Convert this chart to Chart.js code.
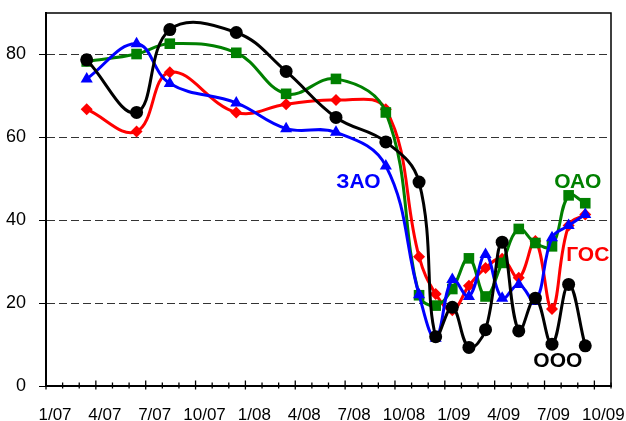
<!DOCTYPE html>
<html>
<head>
<meta charset="utf-8">
<script src="https://cdn.jsdelivr.net/npm/chart.js@4/dist/chart.umd.min.js"></script>
<style>
  html, body { margin: 0; padding: 0; background: #fff; }
  #wrap { width: 626px; height: 421px; position: relative; }
</style>
</head>
<body>
<div id="wrap"><canvas id="chart"></canvas></div>
<script>
// даты наблюдений (месяц, год)
const dates = ['2007-03','2007-06','2007-08','2007-12','2008-03','2008-06','2008-09','2008-11','2008-12',
               '2009-01','2009-02','2009-03','2009-04','2009-05','2009-06','2009-07','2009-08','2009-09'];

const ooo = [78.7, 66.0, 86.0, 85.3, 75.9, 64.8, 58.9, 49.2, 11.9, 19.0, 9.3, 13.6, 34.7, 13.3, 21.2, 10.1, 24.5, 9.7];
const zao = [74.1, 82.6, 73.0, 68.3, 62.1, 61.2, 53.1, 22.0, 11.5, 25.7, 21.6, 31.7, 21.2, 24.5, 20.4, 35.8, 38.7, 41.4];
const oao = [78.3, 80.1, 82.6, 80.4, 70.5, 74.1, 66.0, 21.9, 19.4, 23.4, 30.8, 21.6, 29.7, 37.9, 34.5, 33.7, 46.0, 44.1];
const gos = [66.8, 61.4, 75.7, 66.0, 68.0, 69.0, 66.8, 31.2, 22.2, 18.3, 24.2, 28.5, 30.7, 26.1, 35.0, 18.6, 38.7, 41.4];

const xTickLabels = ['1/07','4/07','7/07','10/07','1/08','4/08','7/08','10/08','1/09','4/09','7/09','10/09'];
const yTicks = [0, 20, 40, 60, 80];

// подписи рядов (в единицах осей: месяцы от 1/07, значение)
const seriesLabels = [
  { text: 'ЗАО', month: 18.8, value: 49.2, color: '#0000ff' },
  { text: 'ОАО', month: 32.0, value: 49.2, color: '#008000' },
  { text: 'ГОС', month: 32.6, value: 31.5, color: '#ff0000' },
  { text: 'ООО', month: 30.8, value: 5.9, color: '#000000' }
];

// месяц от начала 2007 (середина месяца)
function monthPos(d){
  const [y, m] = d.split('-').map(Number);
  return (y - 2007) * 12 + (m - 1) + 0.45;
}
function toPoints(arr){
  return arr.map((v, i) => ({ x: monthPos(dates[i]), y: v }));
}

Chart.defaults.font.family = '"Liberation Sans", Arial, sans-serif';
Chart.defaults.color = '#000';

const framePlugin = {
  id: 'frame',
  afterDraw(chart){
    const ctx = chart.ctx;
    const a = chart.chartArea;
    const xs = chart.scales.x, ys = chart.scales.y;
    ctx.save();
    // рамка сверху и справа
    ctx.strokeStyle = '#000';
    ctx.lineWidth = 1.5;
    ctx.beginPath();
    ctx.moveTo(a.left, a.top);
    ctx.lineTo(a.right, a.top);
    ctx.lineTo(a.right, a.bottom);
    ctx.stroke();
    // засечки оси X
    ctx.lineWidth = 1.3;
    xs.ticks.forEach(t => {
      const px = xs.getPixelForValue(t.value);
      const major = t.value % 3 === 0;
      ctx.beginPath();
      ctx.moveTo(px, a.bottom - (major ? 5.5 : 3.5));
      ctx.lineTo(px, a.bottom + (major ? 3.5 : 2.5));
      ctx.stroke();
    });
    // подписи рядов
    ctx.font = 'bold 21px "Liberation Sans", Arial, sans-serif';
    ctx.textAlign = 'center';
    ctx.textBaseline = 'middle';
    seriesLabels.forEach(l => {
      ctx.fillStyle = l.color;
      ctx.fillText(l.text, xs.getPixelForValue(l.month), ys.getPixelForValue(l.value));
    });
    ctx.restore();
  }
};

function ds(label, data, color, style, radius){
  return {
    label: label,
    data: toPoints(data),
    borderColor: color,
    backgroundColor: color,
    borderWidth: 3,
    pointStyle: style,
    pointRadius: radius,
    pointBorderWidth: 0,
    tension: 0.4
  };
}

new Chart(document.getElementById('chart'), {
  type: 'line',
  data: {
    datasets: [
      ds('ООО', ooo, '#000000', 'circle', 6.5),
      ds('ЗАО', zao, '#0000ff', 'triangle', 7),
      ds('ОАО', oao, '#008000', 'rect', 7.5),
      ds('ГОС', gos, '#ff0000', 'rectRot', 6)
    ]
  },
  options: {
    responsive: true,
    maintainAspectRatio: false,
    animation: false,
    layout: { padding: { top: 13, right: 15, left: 0, bottom: 0 } },
    plugins: { legend: { display: false }, tooltip: { enabled: false } },
    scales: {
      x: {
        type: 'linear',
        min: 0,
        max: 34,
        afterFit: s => { s.height = 35; s.paddingLeft = 0; s.paddingRight = 0; },
        ticks: {
          stepSize: 1,
          autoSkip: false,
          maxRotation: 0,
          labelOffset: 9,
          padding: 13,
          font: { size: 17 },
          callback: v => (v % 3 === 0 ? xTickLabels[v / 3] : '')
        },
        grid: { drawOnChartArea: false, tickLength: 6, tickColor: 'rgba(0,0,0,0)' },
        border: { display: true, color: '#000', width: 2 }
      },
      y: {
        min: 0,
        max: 90,
        afterFit: s => { s.width = 46; s.paddingTop = 0; s.paddingBottom = 0; },
        afterBuildTicks: s => { s.ticks = yTicks.map(v => ({ value: v })); },
        ticks: { padding: 13, font: { size: 18 } },
        grid: {
          color: c => (c.tick && c.tick.value === 0 ? 'rgba(0,0,0,0)' : '#333'),
          lineWidth: 1,
          tickLength: 7,
          tickColor: '#000',
          tickBorderDash: []
        },
        border: { display: true, color: '#000', width: 2, dash: [8, 4] }
      }
    }
  },
  plugins: [framePlugin]
});
</script>
</body>
</html>
